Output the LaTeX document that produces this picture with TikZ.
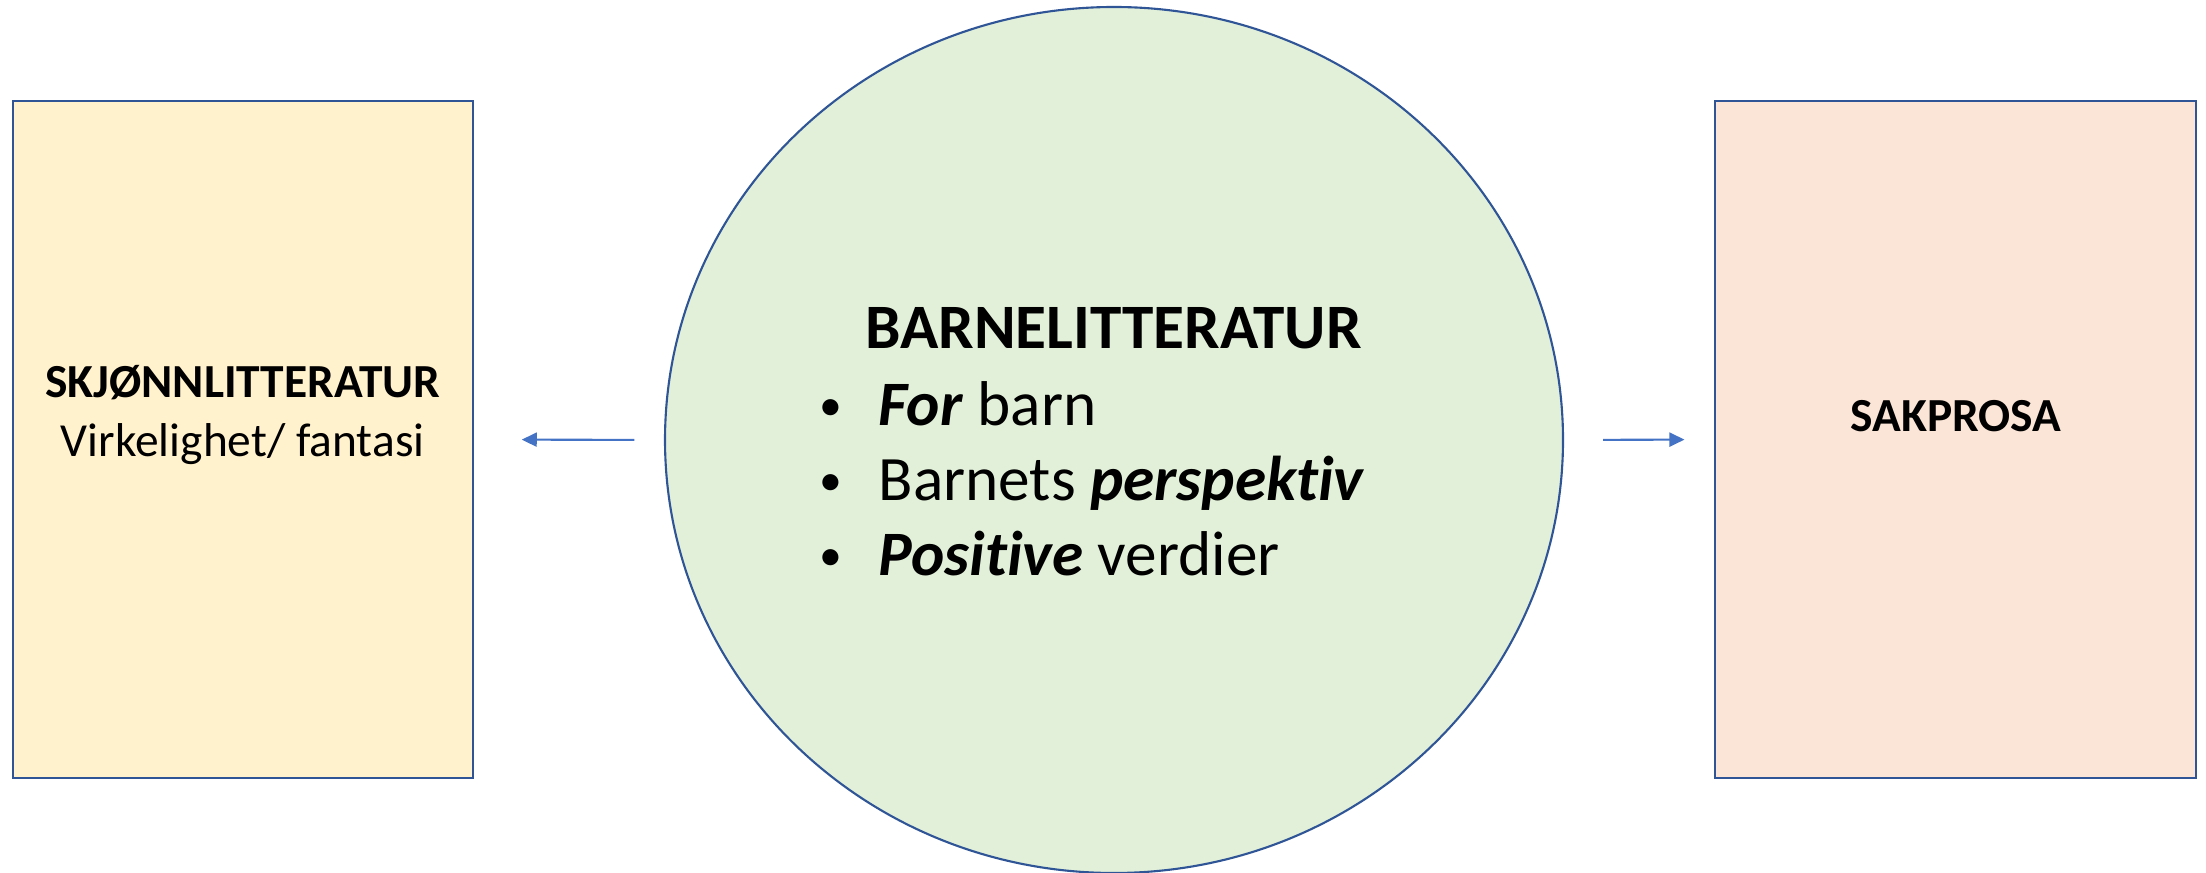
\documentclass[tikz,border=0pt]{standalone}
\usepackage{fontspec}
\setmainfont{Carlito}[Ligatures=NoCommon]
\usetikzlibrary{shapes.geometric, arrows.meta}
\definecolor{edgeblue}{HTML}{2F5597}
\definecolor{arrowblue}{HTML}{4472C4}
\definecolor{boxyellow}{HTML}{FFF2CC}
\definecolor{boxpeach}{HTML}{FBE5D6}
\definecolor{ovalgreen}{HTML}{E2F0D9}
\newcommand{\bitem}[1]{\makebox[0.62cm][l]{\hspace{0.03cm}\raisebox{1.6pt}{\fontsize{13}{13}\selectfont\textbullet}}#1}
\tikzset{
    genrebox/.style={rectangle, draw=edgeblue, line width=0.6pt,
        minimum height=6.77cm, inner sep=0pt},
    mainoval/.style={ellipse, draw=edgeblue, fill=ovalgreen, line width=0.6pt,
        minimum width=8.98cm, minimum height=8.66cm, inner sep=0pt},
    boxtext/.style={align=center, inner sep=0pt,
        font=\fontsize{13.5}{16.8}\selectfont},
    pointline/.style={anchor=base west, inner sep=0pt,
        font=\fontsize{18}{21}\selectfont},
    branch/.style={draw=arrowblue, line width=0.6pt,
        -{Triangle[length=0.15cm, width=0.14cm]}}
}

\begin{document}
\begin{tikzpicture}
  \useasboundingbox (0cm, 0cm) rectangle (22.06cm, -8.73cm);

  \node (skj) [genrebox, fill=boxyellow, minimum width=4.60cm] at (2.427cm, -4.395cm) {};
  \node (sak) [genrebox, fill=boxpeach, minimum width=4.81cm] at (19.555cm, -4.395cm) {};
  \node (barn) [mainoval] at (11.14cm, -4.40cm) {};

  \node (skjtext) [boxtext] at (2.427cm, -4.15cm)
    {\textbf{SKJØNNLITTERATUR}\\Virkelighet/ fantasi};
  \node (saktext) [boxtext] at (19.56cm, -4.16cm) {\textbf{SAKPROSA}};

  \node (head) [inner sep=0pt, font=\fontsize{18}{21}\selectfont\bfseries]
    at (11.135cm, -3.28cm) {BARNELITTERATUR};
  \node (p1) [pointline] at (8.16cm, -4.26cm) {\bitem{\textbf{\textit{For}} barn}};
  \node (p2) [pointline] at (8.16cm, -5.01cm) {\bitem{Barnets \textbf{\textit{perspektiv}}}};
  \node (p3) [pointline] at (8.16cm, -5.76cm) {\bitem{\textbf{\textit{Positive}} verdier}};

  \draw [branch, shorten <=0.295cm, shorten >=0.48cm] (barn.west) -- (skj.east);
  \draw [branch, shorten <=0.39cm, shorten >=0.295cm] (barn.east) -- (sak.west);
\end{tikzpicture}
\end{document}
